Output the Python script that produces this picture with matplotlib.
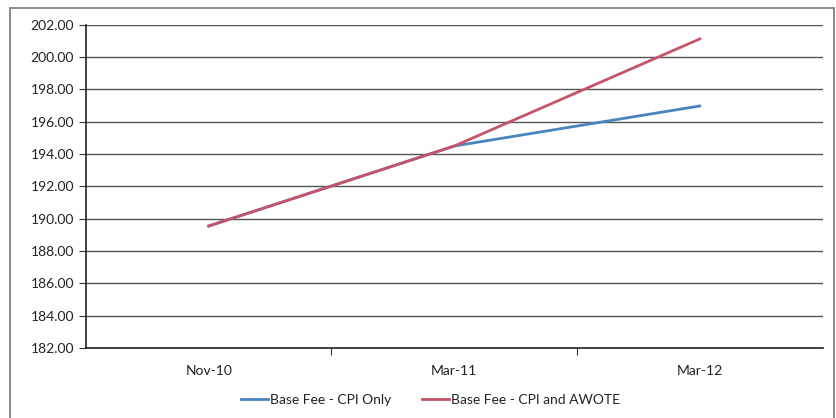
import matplotlib
matplotlib.use("Agg")
import matplotlib.pyplot as plt
from matplotlib.patches import Rectangle
from matplotlib.ticker import FixedLocator, FormatStrFormatter

plt.rcParams['font.family'] = ['Lato', 'DejaVu Sans']

# Base fee index values
periods = ['Nov-10', 'Mar-11', 'Mar-12']
cpi_only = [189.55, 194.50, 196.98]
cpi_awote = [189.55, 194.50, 201.13]

fig = plt.figure(figsize=(8.37, 4.18), dpi=100)
ax = fig.add_axes([0.1027, 0.1675, 0.880, 0.773])

x = range(len(periods))
ax.plot(x, cpi_only, color='#4A84BF', linewidth=2.0, label='Base Fee - CPI Only')
ax.plot(x, cpi_awote, color='#C55468', linewidth=2.0, label='Base Fee - CPI and AWOTE')

ax.set_xlim(-0.5, 2.5)
ax.set_ylim(182, 202)
ax.set_yticks(range(182, 203, 2))
ax.yaxis.set_major_formatter(FormatStrFormatter('%.2f'))

# category labels centred, tick marks between categories
ax.set_xticks([0.5, 1.5])
ax.set_xticklabels([])
ax.xaxis.set_minor_locator(FixedLocator(list(x)))
ax.set_xticks(list(x), periods, minor=True)
ax.tick_params(axis='x', which='minor', length=0, pad=12, labelsize=10, labelcolor='#222222')
ax.tick_params(axis='x', which='major', length=5, direction='out', color='#333333')
ax.tick_params(axis='y', length=5, direction='out', labelsize=10, color='#333333',
               labelcolor='#222222')

ax.grid(axis='y', color='#555555', linewidth=1.0)
ax.set_axisbelow(True)
for side in ['top', 'right']:
    ax.spines[side].set_visible(False)
for side in ['left', 'bottom']:
    ax.spines[side].set_color('#222222')
    ax.spines[side].set_linewidth(1.2)

fig.legend(loc='lower center', bbox_to_anchor=(0.514, 0.0), ncol=2, frameon=False,
           fontsize=10, handlelength=2.0, handletextpad=0.1, columnspacing=2.2,
           labelcolor='#222222')

# chart outline
fig.patches.append(Rectangle((0.012, -0.01), 0.985, 0.99, transform=fig.transFigure,
                             fill=False, edgecolor='#777777', linewidth=1.2))

fig.savefig('out.png', dpi=100)
